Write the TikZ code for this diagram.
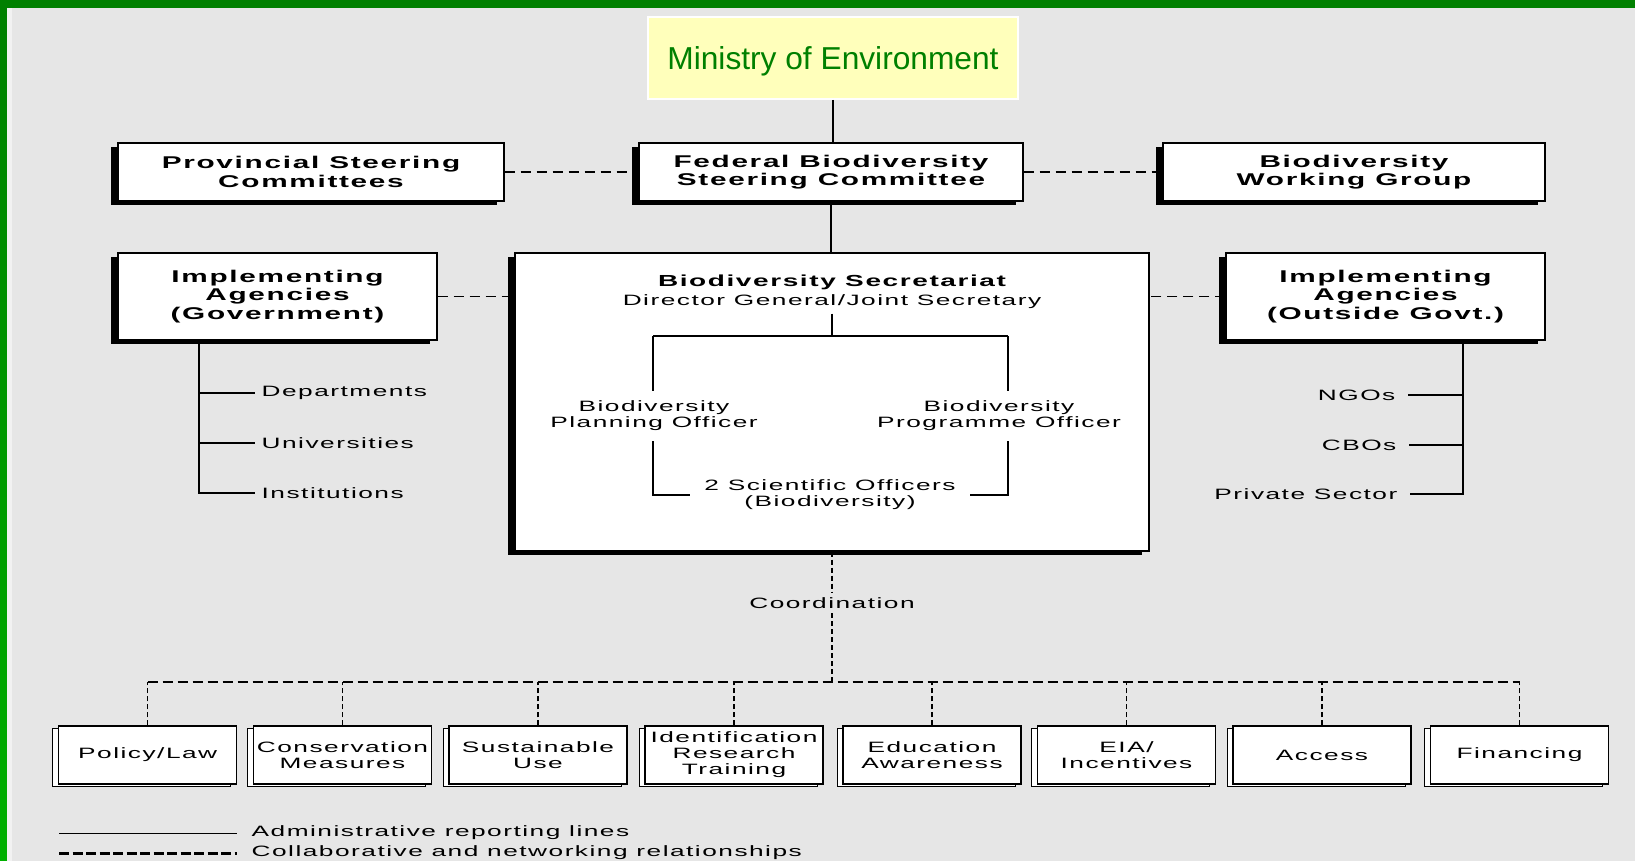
\documentclass[tikz,border=0pt]{standalone}
\usepackage{fontspec}
\setmainfont{Liberation Sans}
\newfontfamily\wf[FakeStretch=1.75,LetterSpace=10]{Liberation Sans}
\usetikzlibrary{shadows,calc}
\definecolor{bg}{HTML}{E6E6E6}
\definecolor{dgreen}{HTML}{008000}
\definecolor{lgreen}{HTML}{00B000}
\definecolor{pyellow}{HTML}{FFFFBB}
\definecolor{lstrip}{HTML}{F2F2F2}
\begin{document}
\begin{tikzpicture}[x=1pt,y=-1pt,line width=1.4pt,
  box/.style={draw=black,fill=white,line width=1.3pt,inner sep=0pt,align=center},
  sbox/.style={box,general shadow={fill=black,shadow xshift=-7pt,shadow yshift=-4pt}},
  boldtxt/.style={font=\wf\bfseries\fontsize{17}{18.5}\selectfont},
  txt/.style={font=\wf\fontsize{15}{16}\selectfont},
  bbox/.style={box,txt,minimum width=178pt,minimum height=58pt,
     general shadow={draw=black,fill=white,line width=1pt,shadow xshift=-6pt,shadow yshift=-2pt}},
  dsh/.style={dash pattern=on 10pt off 6pt},
  dshh/.style={dash pattern=on 10pt off 5pt},
  dsv/.style={dash pattern=on 5pt off 3pt},
  lbl/.style={txt,inner ysep=0pt},
]
\useasboundingbox (0,0) rectangle (1635,861);
% background
\fill[bg] (0,0) rectangle (1635,861);
\fill[dgreen] (0,0) rectangle (1635,8);
\shade[top color=dgreen,bottom color=lgreen] (0,8) rectangle (7,861);
\fill[lstrip] (7,8) rectangle (12,861);

% top
\node[draw=white,fill=pyellow,line width=2pt,minimum width=370pt,minimum height=82pt,
      font=\fontsize{31.7}{36}\selectfont,text=dgreen,inner sep=0pt,text depth=0pt] (min) at (833,58) {Ministry of Environment};
\node[sbox,boldtxt,minimum width=386pt,minimum height=58pt] (prov) at (311,172) {Provincial Steering\\Committees};
\node[sbox,boldtxt,minimum width=384pt,minimum height=58pt] (fed) at (831,172) {Federal Biodiversity\\Steering Committee};
\node[sbox,boldtxt,minimum width=382pt,minimum height=58pt] (bwg) at (1354,172) {Biodiversity\\Working Group};

% second row
\node[sbox,boldtxt,minimum width=319pt,minimum height=87pt] (iag) at (277.5,296.5) {Implementing\\Agencies\\(Government)};
\node[sbox,boldtxt,minimum width=319pt,minimum height=87pt] (iao) at (1385.5,296.5) {Implementing\\Agencies\\(Outside Govt.)};
\node[sbox,minimum width=634pt,minimum height=298pt] (sec) at (832,402) {};

\draw (min.south) -- (min.south |- fed.north);
\draw (fed.south) -- (fed.south |- sec.north);
\draw[dsh] (prov.east) -- (fed.west);
\draw[dsh] (fed.east) -- (bwg.west);
\draw[dsh] (iag.east) -- (iag.east -| sec.west);
\draw[dsh] (iao.west) -- (iao.west -| sec.east);

% secretariat inside
\node[txt,align=center,inner sep=0pt,minimum height=42pt,font=\wf\fontsize{15}{19}\selectfont] (bs) at (832,292)
  {{\bfseries\fontsize{16}{19}\selectfont Biodiversity Secretariat}\\Director General/Joint Secretary};
\node[txt,align=center,inner sep=0pt,minimum height=49pt] (bpo) at (654,416) {Biodiversity\\Planning Officer};
\node[txt,align=center,inner sep=0pt,minimum height=49pt] (bpro) at (999,416) {Biodiversity\\Programme Officer};
\node[txt,align=center,inner sep=0pt,minimum width=278pt] (sci) at (830,495) {2 Scientific Officers\\(Biodiversity)};
\coordinate (jm) at (832,336);
\coordinate (jl) at (653,336);
\coordinate (jr) at (1008,336);
\draw (bs.south) -- (jm);
\draw (jl) -- (jr);
\draw (jl) -- (jl |- bpo.north);
\draw (jr) -- (jr |- bpro.north);
\draw (jl |- bpo.south) |- (sci.west);
\draw (jr |- bpro.south) |- (sci.east);

% left list
\coordinate (lt) at (199,340);
\node[lbl,anchor=west,inner xsep=6pt] (dep) at (255,393) {Departments};
\node[lbl,anchor=west,inner xsep=6pt] (uni) at (255,443) {Universities};
\node[lbl,anchor=west,inner xsep=6pt] (ins) at (255,493) {Institutions};
\draw (lt) |- (ins.west);
\draw (lt |- dep.west) -- (dep.west);
\draw (lt |- uni.west) -- (uni.west);

% right list
\coordinate (rt) at (1463,340);
\node[lbl,anchor=east,inner xsep=12pt] (ngo) at (1408,395) {NGOs};
\node[lbl,anchor=east,inner xsep=12pt] (cbo) at (1409,445) {CBOs};
\node[lbl,anchor=east,inner xsep=12pt] (pri) at (1410,494) {Private Sector};
\draw (rt) |- (pri.east);
\draw (rt |- ngo.east) -- (ngo.east);
\draw (rt |- cbo.east) -- (cbo.east);

% coordination
\node[txt,fill=bg,inner sep=4pt] (coord) at (832,603) {Coordination};
\coordinate (cj) at (832,682);
\draw[dsv] (sec.south) -- (coord.north);
\draw[dsv] (coord.south) -- (cj);

% bottom boxes
\node[bbox] (pol) at (147.7,755) {Policy/Law};
\node[bbox] (con) at (342.5,755) {Conservation\\Measures};
\node[bbox] (sus) at (538,755) {Sustainable\\Use};
\node[bbox] (idt) at (734,755) {Identification\\Research\\Training};
\node[bbox] (edu) at (932,755) {Education\\Awareness};
\node[bbox] (eia) at (1126.5,755) {EIA/\\Incentives};
\node[bbox] (acc) at (1322,755) {Access};
\node[bbox] (fin) at (1519.5,755) {Financing};
\draw[dshh] (pol.north |- cj) -- (fin.north |- cj);
\foreach \n in {pol,con,sus,idt,edu,eia,acc,fin}
  \draw[dsv] (\n.north) -- (\n.north |- cj);

% legend
\coordinate (la1) at (59,833);
\coordinate (la2) at (237,833);
\coordinate (lb1) at (59,853);
\coordinate (lb2) at (237,853);
\node[lbl,anchor=west,inner xsep=0pt] (leg1) at (251,833) {Administrative reporting lines};
\node[lbl,anchor=west,inner xsep=0pt] (leg2) at (251,853) {Collaborative and networking relationships};
\draw[line width=1pt] (la1) -- (la2);
\draw[line width=3pt,dash pattern=on 10pt off 3.5pt] (lb1) -- (lb2);
\end{tikzpicture}
\end{document}
